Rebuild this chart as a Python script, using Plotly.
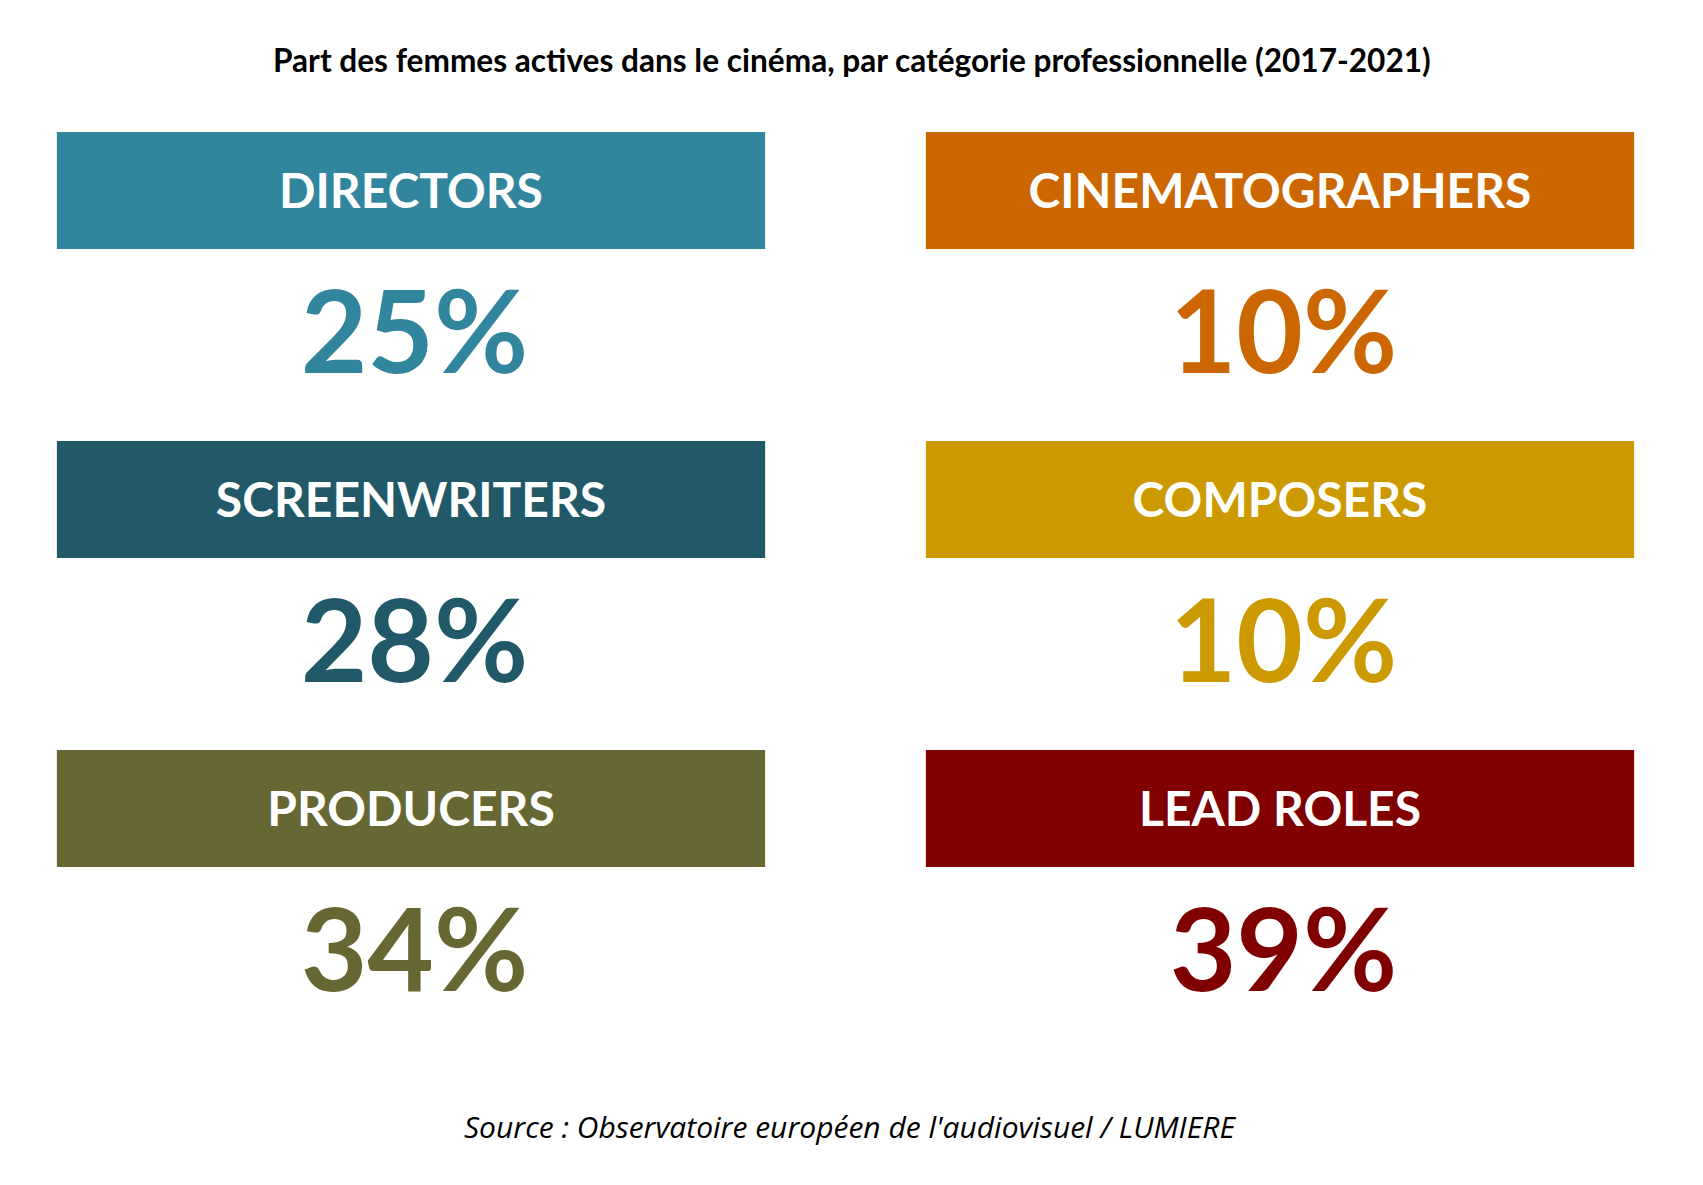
import plotly.graph_objects as go

# categories, values and colours, laid out as a 2-column grid
labels = ['DIRECTORS', 'SCREENWRITERS', 'PRODUCERS',
          'CINEMATOGRAPHERS', 'COMPOSERS', 'LEAD ROLES']
shares = [25, 28, 34, 10, 10, 39]
colors = ['#31859c', '#215968', '#676733',
          '#cc6600', '#cc9900', '#800000']
cols = [0, 0, 0, 1, 1, 1]
rows = [0, 1, 2, 0, 1, 2]

title = 'Part des femmes actives dans le cinéma, par catégorie professionnelle (2017-2021)'
source = "Source : Observatoire européen de l'audiovisuel / LUMIERE"

W, H = 1703, 1185
PAD = 8  # page body margin, pulled back so the picture sits where the reference does
row_top = 132
row_step = 309
box_h = 117
pct_off = 212

tops = [row_top + r * row_step for r in rows]

# header boxes
boxes = go.Bar(x=cols, y=[box_h] * len(cols), base=tops, width=0.815,
               marker=dict(color=colors, line=dict(width=0)),
               hoverinfo='skip')

# white labels in boxes
names = go.Scatter(x=cols, y=[t + box_h / 2 + 5 for t in tops], mode='text',
                   text=labels,
                   textfont=dict(family='Lato', size=48, color='white', weight=700),
                   hoverinfo='skip')

# big percentages
pcts = go.Scatter(x=[c + 0.004 for c in cols], y=[t + pct_off for t in tops], mode='text',
                  text=[f'{v}%' for v in shares],
                  textfont=dict(family='Lato', size=115, color=colors, weight=700),
                  hoverinfo='skip')

x_unit = 869  # px between the two column centres
x0 = -(411 - PAD) / x_unit

layout = go.Layout(
    width=W, height=H,
    margin=dict(l=0, r=0, t=0, b=0),
    paper_bgcolor='white', plot_bgcolor='white',
    showlegend=False,
    xaxis=dict(range=[x0, x0 + W / x_unit], visible=False, fixedrange=True),
    yaxis=dict(range=[H + PAD, PAD], visible=False, fixedrange=True),
    annotations=[
        dict(text='<b>' + title + '</b>', x=(852 - PAD) / W, y=1 - (60 - PAD) / H,
             xref='paper', yref='paper', showarrow=False,
             xanchor='center', yanchor='middle',
             font=dict(family='Lato', size=31.6, color='black')),
        dict(text='<i>' + source + '</i>', x=(850 - PAD) / W, y=1 - (1126 - PAD) / H,
             xref='paper', yref='paper', showarrow=False,
             xanchor='center', yanchor='middle',
             font=dict(family='Open Sans', size=30, color='black')),
    ],
)

fig = go.Figure(data=[boxes, names, pcts], layout=layout)
fig.write_html('out.html')
